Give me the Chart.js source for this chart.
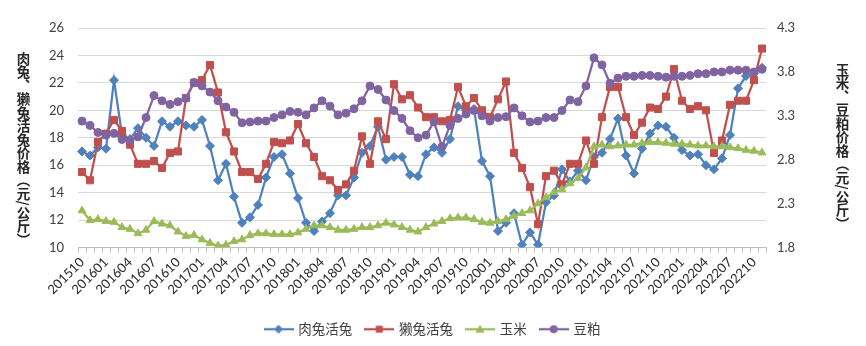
<!DOCTYPE html>
<html>
<head>
<meta charset="utf-8">
<script src="https://cdn.jsdelivr.net/npm/chart.js@4.4.0/dist/chart.umd.min.js"></script>
<style>
  body { margin: 0; background: #fff; }
  #wrap { position: relative; width: 866px; height: 346px; }
  #wrap canvas { position: absolute; left: 0; top: 0; }
  .titulo-eixo {
    position: absolute;
    writing-mode: vertical-rl;
    font-family: "Noto Sans CJK SC", sans-serif;
    font-size: 13.5px;
    font-weight: bold;
    line-height: 1;
    color: #262626;
  }
</style>
</head>
<body>
<div id="wrap">
  <canvas id="grafico" width="866" height="346"></canvas>
  <div class="titulo-eixo" id="titulo-esq" style="left:16px; top:52px;">肉兔、獭兔活兔价格（元/公斤）</div>
  <div class="titulo-eixo" id="titulo-dir" style="left:835px; top:63px;">玉米、豆粕价格（元/公斤）</div>
</div>
<script>
// meses (YYYYMM)
const meses = [
  '201510','201511','201512',
  '201601','201602','201603','201604','201605','201606','201607','201608','201609','201610','201611','201612',
  '201701','201702','201703','201704','201705','201706','201707','201708','201709','201710','201711','201712',
  '201801','201802','201803','201804','201805','201806','201807','201808','201809','201810','201811','201812',
  '201901','201902','201903','201904','201905','201906','201907','201908','201909','201910','201911','201912',
  '202001','202002','202003','202004','202005','202006','202007','202008','202009','202010','202011','202012',
  '202101','202102','202103','202104','202105','202106','202107','202108','202109','202110','202111','202112',
  '202201','202202','202203','202204','202205','202206','202207','202208','202209','202210','202211'
];

// 肉兔活兔 (元/公斤, 左轴)
const rouTu = [
  17.0,16.7,17.3,17.2,22.2,18.2,17.9,18.7,18.0,17.4,
  19.2,18.8,19.2,18.9,18.8,19.3,17.4,14.9,16.1,13.7,
  11.8,12.2,13.1,15.1,16.6,16.8,15.4,13.6,11.8,11.2,
  11.9,12.5,13.8,13.8,15.1,16.9,17.4,18.8,16.4,16.6,
  16.6,15.3,15.2,16.8,17.3,16.9,17.9,20.3,20.0,20.1,
  16.3,15.2,11.2,11.8,12.5,10.2,11.1,10.2,13.3,13.8,
  15.7,14.8,15.6,14.9,16.6,16.9,17.9,19.4,16.7,15.4,
  17.2,18.3,18.9,18.8,18.0,17.1,16.7,16.8,16.0,15.7,
  16.5,18.2,21.6,22.5,22.7,23.1
];

// 獭兔活兔 (左轴)
const taTu = [
  15.5,14.9,17.7,18.3,19.3,18.5,17.5,16.1,16.1,16.3,
  15.8,16.9,17.0,20.9,22.0,22.2,23.3,21.3,18.4,17.0,
  15.5,15.5,15.0,16.1,17.7,17.6,17.8,19.0,17.6,16.6,
  15.2,14.9,14.2,14.6,15.6,18.1,16.1,19.2,17.9,21.9,
  20.8,21.1,20.2,19.5,19.5,19.2,19.3,21.7,20.3,20.9,
  20.0,19.5,20.8,22.1,16.9,15.8,14.4,11.7,15.2,15.6,
  14.6,16.1,16.1,17.8,16.1,19.5,21.7,21.7,19.5,18.2,
  19.1,20.2,20.1,21.0,23.0,20.7,20.1,20.3,20.0,16.9,
  17.8,20.4,20.7,20.7,22.2,24.5
];

// 玉米 (右轴)
const yuMi = [
  2.22,2.11,2.12,2.10,2.09,2.03,2.01,1.96,2.00,2.10,
  2.07,2.05,1.98,1.93,1.94,1.89,1.85,1.82,1.83,1.87,
  1.89,1.94,1.96,1.96,1.95,1.95,1.95,1.97,2.01,2.05,
  2.05,2.03,2.00,2.00,2.01,2.03,2.03,2.05,2.08,2.06,
  2.03,2.00,1.98,2.03,2.07,2.10,2.13,2.14,2.14,2.12,
  2.09,2.08,2.10,2.12,2.16,2.19,2.22,2.30,2.37,2.43,
  2.46,2.53,2.59,2.71,2.95,2.97,2.95,2.96,2.97,2.97,
  2.99,3.00,3.00,2.99,2.98,2.98,2.97,2.96,2.96,2.95,
  2.95,2.94,2.93,2.91,2.90,2.88
];

// 豆粕 (右轴)
const douPo = [
  3.24,3.19,3.11,3.08,3.10,3.03,3.02,3.06,3.28,3.53,
  3.47,3.43,3.46,3.50,3.68,3.64,3.57,3.47,3.40,3.34,
  3.22,3.23,3.24,3.24,3.28,3.31,3.35,3.34,3.31,3.39,
  3.47,3.41,3.31,3.33,3.38,3.47,3.64,3.60,3.48,3.36,
  3.27,3.13,3.05,3.08,3.23,2.95,3.19,3.27,3.32,3.36,
  3.30,3.24,3.28,3.29,3.39,3.30,3.23,3.24,3.28,3.28,
  3.36,3.48,3.46,3.64,3.96,3.88,3.67,3.73,3.75,3.75,
  3.76,3.76,3.75,3.74,3.75,3.75,3.76,3.78,3.78,3.80,
  3.80,3.82,3.82,3.82,3.80,3.83
];

const series = [
  { nome: '肉兔活兔', dados: rouTu, cor: '#4F81BD', estilo: 'rectRot', raio: 4.5, eixo: 'y' },
  { nome: '獭兔活兔', dados: taTu, cor: '#C0504D', estilo: 'rect', raio: 5, eixo: 'y' },
  { nome: '玉米', dados: yuMi, cor: '#9BBB59', estilo: 'triangle', raio: 4.5, eixo: 'y1' },
  { nome: '豆粕', dados: douPo, cor: '#8064A2', estilo: 'circle', raio: 4, eixo: 'y1' }
];

// icone da legenda: linha com marcador no meio
function criarIcone(cor, estilo) {
  const c = document.createElement('canvas');
  c.width = 30;
  c.height = 12;
  const ctx = c.getContext('2d');
  ctx.strokeStyle = cor;
  ctx.fillStyle = cor;
  ctx.lineWidth = 2.25;
  ctx.beginPath();
  ctx.moveTo(0, 6);
  ctx.lineTo(30, 6);
  ctx.stroke();
  ctx.beginPath();
  if (estilo === 'rectRot') {
    ctx.moveTo(15, 1.5); ctx.lineTo(19.5, 6); ctx.lineTo(15, 10.5); ctx.lineTo(10.5, 6);
  } else if (estilo === 'rect') {
    ctx.rect(11.5, 2.5, 7, 7);
  } else if (estilo === 'triangle') {
    ctx.moveTo(15, 1.5); ctx.lineTo(19.5, 9.5); ctx.lineTo(10.5, 9.5);
  } else {
    ctx.arc(15, 6, 4, 0, Math.PI * 2);
  }
  ctx.closePath();
  ctx.fill();
  return c;
}

const icones = series.map(s => criarIcone(s.cor, s.estilo));

const fonteNum = { family: 'Lato', size: 13 };

new Chart(document.getElementById('grafico'), {
  type: 'line',
  data: {
    labels: meses,
    datasets: series.map((s, i) => ({
      label: s.nome,
      data: s.dados,
      yAxisID: s.eixo,
      borderColor: s.cor,
      backgroundColor: s.cor,
      borderWidth: 2.25,
      pointStyle: s.estilo,
      pointRadius: s.raio,
      pointBorderWidth: 1,
      pointBackgroundColor: s.cor,
      pointBorderColor: s.cor,
      tension: 0,
      order: series.length - i
    }))
  },
  options: {
    responsive: false,
    animation: false,
    devicePixelRatio: 1,
    layout: { padding: { top: 28, bottom: 0, left: 0, right: 0 } },
    plugins: {
      tooltip: { enabled: false },
      legend: {
        position: 'bottom',
        labels: {
          usePointStyle: true,
          pointStyleWidth: 26,
          padding: 14,
          color: '#404040',
          font: { family: 'Noto Sans CJK SC', size: 13.5 },
          sort: (a, b) => a.datasetIndex - b.datasetIndex,
          generateLabels: chart => Chart.defaults.plugins.legend.labels.generateLabels(chart).map(item => {
            item.pointStyle = icones[item.datasetIndex];
            return item;
          })
        }
      }
    },
    scales: {
      x: {
        type: 'category',
        offset: true,
        grid: { display: true, drawOnChartArea: false, drawTicks: true, tickLength: 5, color: '#BFBFBF', offset: true },
        border: { display: true, color: '#BFBFBF' },
        ticks: {
          autoSkip: false,
          minRotation: 45,
          maxRotation: 45,
          padding: 2,
          color: '#262626',
          font: fonteNum,
          callback: function (v, i) { return i % 3 === 0 ? this.getLabelForValue(v) : ''; }
        },
        afterFit: s => { s.height = 61; }
      },
      y: {
        position: 'left',
        min: 10,
        max: 26,
        ticks: { stepSize: 2, padding: 14, color: '#404040', font: fonteNum },
        grid: { color: '#D9D9D9', drawTicks: false },
        border: { display: false },
        afterFit: s => { s.width = 78; }
      },
      y1: {
        position: 'right',
        min: 1.8,
        max: 4.3,
        ticks: { stepSize: 0.5, padding: 11, color: '#404040', font: fonteNum, callback: v => v.toFixed(1) },
        grid: { display: false, drawTicks: false },
        border: { display: false },
        afterFit: s => { s.width = 100; }
      }
    }
  }
});
</script>
</body>
</html>
